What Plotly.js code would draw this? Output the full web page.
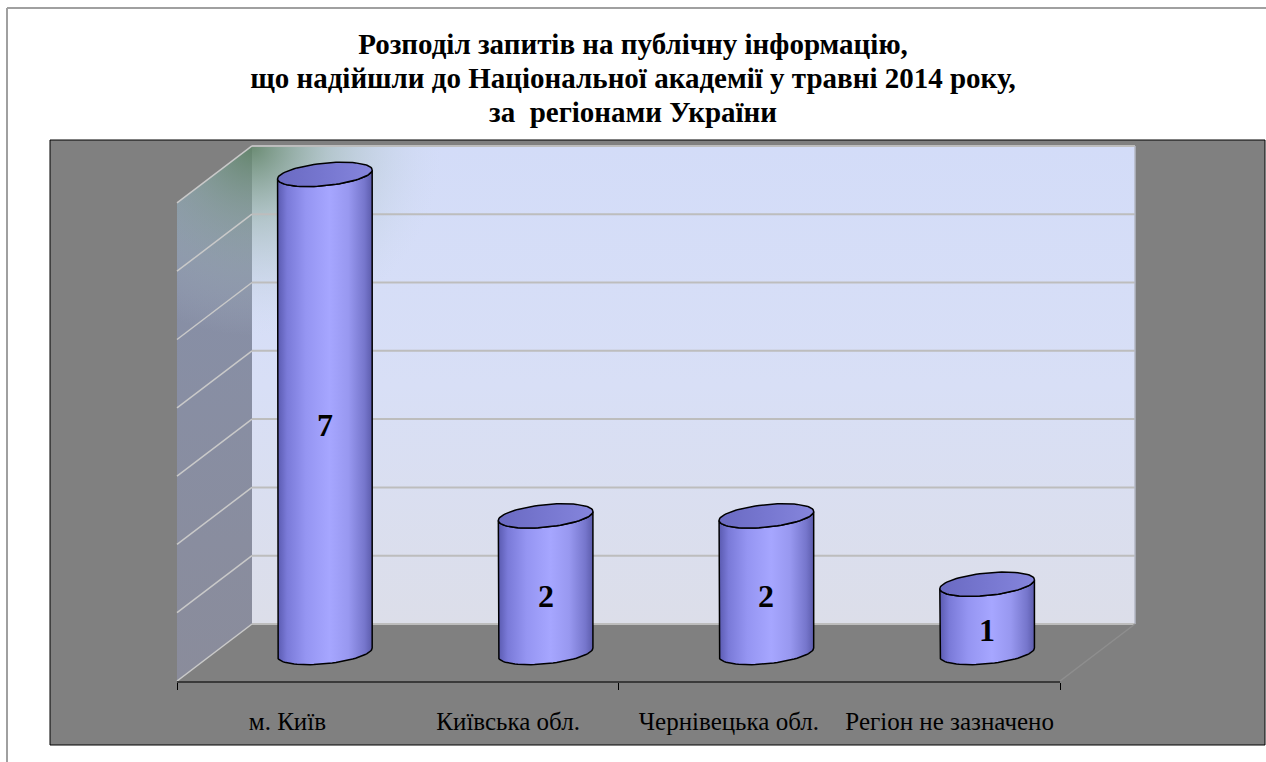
<!DOCTYPE html>
<html><head><meta charset="utf-8">
<script src="https://cdn.plot.ly/plotly-3.0.1.min.js"></script>
<style>html,body{margin:0;padding:0;background:#fff}</style>
</head><body><div id="chart" style="width:1266px;height:762px"></div>
<script>
// ---- data ----
const categories = ['м. Київ', 'Київська обл.', 'Чернівецька обл.', 'Регіон не зазначено'];
const requests = [7, 2, 2, 1];
const valueTicks = [0, 1, 2, 3, 4, 5, 6, 7];
const titleLines = ['Розподіл запитів на публічну інформацію,',
                    'що надійшли до Національної академії у травні 2014 року,',
                    'за\u00a0 регіонами України'];

// ---- layout geometry ----
const W = 1266, H = 762;
const L = 50, R = 1265, T = 140, B = 681;   // plotting area (B = front floor edge)
const boxBottom = 745;
const pxX = 220.75, pxY = 68.3;              // px per category / per value unit
const frontLeftPx = 177;
const depthPx = [75, 57];                    // oblique depth vector
const DX = depthPx[0] / pxX, DY = depthPx[1] / pxY;
const xMin = -0.5 + (L - frontLeftPx) / pxX, xMax = -0.5 + (R - frontLeftPx) / pxX;
const yMin = 0, yMax = (B - T) / pxY;
const nCat = categories.length;
const xLeft = -0.5, xRight = nCat - 0.5;
const vTop = valueTicks[valueTicks.length - 1];
const SERIF = 'Liberation Serif, Times New Roman, serif';

function P(x, y, d) { return [x + d * DX, y + d * DY]; }
const ppx = p => (p - L) / (R - L);
const ppy = p => (B - p) / (B - T);

const traces = [];
function poly(pts, extra) {
  return Object.assign({type: 'scatter', mode: 'lines', x: pts.map(p => p ? p[0] : null),
    y: pts.map(p => p ? p[1] : null), hoverinfo: 'skip', showlegend: false}, extra);
}

// side wall
traces.push(poly([P(xLeft, 0, 0), P(xLeft, 0, 1), P(xLeft, vTop, 1), P(xLeft, vTop, 0), P(xLeft, 0, 0)], {
  fill: 'toself', line: {width: 0},
  fillgradient: {type: 'vertical', colorscale: [[0, '#8a8c9b'], [1, '#8690aa']]}
}));
// back wall
traces.push(poly([P(xLeft, 0, 1), P(xRight, 0, 1), P(xRight, vTop, 1), P(xLeft, vTop, 1), P(xLeft, 0, 1)], {
  fill: 'toself', line: {width: 0},
  fillgradient: {type: 'vertical', colorscale: [[0, '#dcdee9'], [0.5, '#d8dff6'], [1, '#d3dcf8']]}
}));
// corner glow (top-left back corner), restricted to the two walls
(function () {
  const C = P(xLeft, vTop, 1);
  const S = 190;
  const off = (dx, dy) => [C[0] + dx / pxX, C[1] + dy / pxY];
  const pts = [C, off(0, S), C, off(-S, 0), C];
  const n = 40;
  for (let k = 0; k <= n; k++) {
    const a = -Math.PI / 2 * k / n;
    pts.push(off(S * Math.cos(a), S * Math.sin(a)));
  }
  pts.push(off(-depthPx[0], -S), off(-depthPx[0], -depthPx[1]), C);
  traces.push(poly(pts, {
    fill: 'toself', line: {width: 0},
    fillgradient: {type: 'radial', colorscale: [[0, 'rgba(95,130,100,0.9)'], [0.4, 'rgba(140,170,150,0.45)'], [1, 'rgba(200,215,230,0)']]}
  }));
})();
// gridlines
const backGrid = [], sideGrid = [];
valueTicks.forEach(v => {
  backGrid.push(P(xLeft, v, 1), P(xRight, v, 1), null);
  sideGrid.push(P(xLeft, v, 0), P(xLeft, v, 1), null);
});
traces.push(poly(sideGrid, {line: {color: '#c9c9c9', width: 1.5}}));
traces.push(poly(backGrid, {line: {color: '#bdbdbd', width: 2}}));
traces.push(poly([P(xRight, 0, 1), P(xRight, vTop, 1)], {line: {color: '#b4b8c4', width: 1.5}}));
traces.push(poly([P(xRight, 0, 0), P(xRight, 0, 1)], {line: {color: '#8e8e8e', width: 1.5}}));

// cylinders
const cylA = 47.3 / pxX, cylB = 11.3 / pxY, cylShear = 4.5 / pxY;
const N = 40;
const bodyScale = [[0, '#5a5ab0'], [0.1, '#7a7ad8'], [0.3, '#9595f2'], [0.55, '#a6a6ff'], [0.75, '#9898f0'], [0.92, '#7676cc'], [1, '#5c5cac']];
const topScale = [[0, '#6a6ac2'], [0.5, '#7777d0'], [1, '#8585dc']];
const annotations = [];
requests.forEach((v, i) => {
  const base = P(i, 0, 0.5), top = P(i, v, 0.5);
  const E = (c, t) => [c[0] + cylA * Math.cos(t), c[1] + cylShear * Math.cos(t) + cylB * Math.sin(t)];
  const body = [E(top, Math.PI)];
  for (let k = 0; k <= N; k++) body.push(E(base, Math.PI + Math.PI * k / N));
  for (let k = 0; k <= N; k++) body.push(E(top, 2 * Math.PI - Math.PI * k / N));
  traces.push(poly(body, {fill: 'toself', fillgradient: {type: 'horizontal', colorscale: bodyScale},
    line: {color: '#000', width: 1.5}}));
  const cap = [];
  for (let k = 0; k <= 2 * N; k++) cap.push(E(top, Math.PI * k / N));
  traces.push(poly(cap, {fill: 'toself', fillgradient: {type: 'horizontal', colorscale: topScale},
    line: {color: '#000', width: 1.5}}));
  const mid = P(i, v / 2, 0.5);
  annotations.push({x: mid[0], y: mid[1], xref: 'x', yref: 'y', text: String(v), showarrow: false,
    yshift: -12, font: {family: SERIF, size: 32, color: '#000', weight: 'bold'}});
});

// category axis carrier
traces.push({type: 'scatter', mode: 'markers', x: categories.map((c, i) => i), y: categories.map(() => null),
  xaxis: 'x2', yaxis: 'y', hoverinfo: 'skip', showlegend: false});

const layout = {
  width: W, height: H,
  margin: {l: L, r: W - R, t: T, b: H - B, pad: 0},
  paper_bgcolor: '#ffffff', plot_bgcolor: 'rgba(0,0,0,0)',
  showlegend: false,
  title: {text: titleLines.map(l => '<span style="font-size:29px">' + l + '</span>').join('<br>'),
    x: 0.5, xref: 'container', xanchor: 'center',
    y: 1 - 54 / H, yref: 'container', yanchor: 'top',
    font: {family: SERIF, size: 26, color: '#000', weight: 'bold'}},
  xaxis: {range: [xMin, xMax], visible: false, fixedrange: true},
  yaxis: {range: [yMin, yMax], visible: false, fixedrange: true},
  xaxis2: {domain: [ppx(frontLeftPx), ppx(frontLeftPx + nCat * pxX)], range: [xLeft, xRight], anchor: 'y',
    tickmode: 'array', tickvals: categories.map((c, i) => i), ticktext: categories,
    ticks: '', showgrid: false, zeroline: false, showline: true, linecolor: '#3a3a3a', linewidth: 2,
    ticklabelstandoff: 17,
    tickfont: {family: SERIF, size: 25, color: '#000'},
    minor: {tickmode: 'array', tickvals: [xLeft, (xLeft + xRight) / 2, xRight], ticks: 'outside', ticklen: 7, tickcolor: '#000', tickwidth: 1, showgrid: false},
    fixedrange: true},
  shapes: [
    {type: 'rect', xref: 'paper', yref: 'paper', x0: 0, x1: 1, y0: ppy(boxBottom), y1: 1,
      fillcolor: '#808080', line: {color: '#000', width: 1}, layer: 'below'},
    {type: 'line', xref: 'paper', yref: 'paper', x0: ppx(7), x1: ppx(W), y0: ppy(8), y1: ppy(8),
      line: {color: '#a0a0a0', width: 2}},
    {type: 'line', xref: 'paper', yref: 'paper', x0: ppx(7), x1: ppx(7), y0: ppy(8), y1: ppy(H),
      line: {color: '#a0a0a0', width: 2}}
  ],
  annotations: annotations
};

Plotly.newPlot('chart', traces, layout, {displayModeBar: false, staticPlot: true});
</script>
</body></html>
